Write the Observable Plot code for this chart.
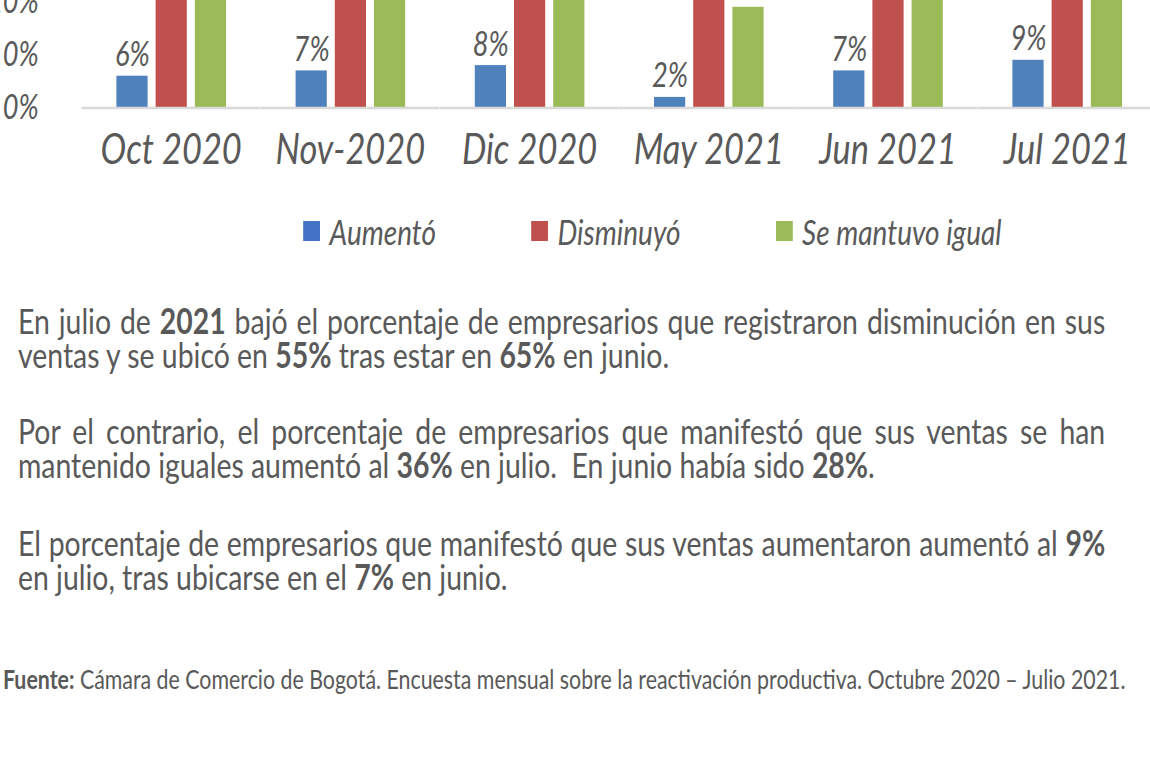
<!DOCTYPE html>
<html><head><meta charset="utf-8">
<script src="https://cdn.jsdelivr.net/npm/d3@7"></script>
<script src="https://cdn.jsdelivr.net/npm/@observablehq/plot@0.6"></script>
<style>
html,body{margin:0;padding:0;background:#fff;overflow:hidden;width:1150px;height:758px;}
#wrap{position:relative;width:1437.5px;height:758px;transform:scaleX(0.8);transform-origin:0 0;font-family:Lato,"Open Sans",sans-serif;color:#595959;}
#chart{position:absolute;left:0;top:-403px;}
#chart svg{max-width:none;}
#chart svg text{font-style:italic;}
#legend{position:absolute;left:379px;top:211px;height:40px;display:flex;align-items:center;gap:119px;font-size:35px;font-style:italic;}
.item{display:flex;align-items:center;}
.sw{width:21px;height:20px;margin-right:12px;}
.para{position:absolute;left:22.5px;width:1359px;font-size:35.5px;line-height:34px;}
.j{text-align:justify;text-align-last:justify;}
.para b{font-weight:700;}
#foot{position:absolute;left:3.75px;top:664px;font-size:26.7px;line-height:30px;white-space:nowrap;}
</style></head>
<body>
<div id="wrap">
  <div id="chart"></div>
  <div id="legend"></div>
  <div class="para" style="top:304px">
    <div class="j">En julio de <b>2021</b> bajó el porcentaje de empresarios que registraron disminución en sus</div>
    <div>ventas y se ubicó en <b>55%</b> tras estar en <b>65%</b> en junio.</div>
  </div>
  <div class="para" style="top:414px">
    <div class="j">Por el contrario, el porcentaje de empresarios que manifestó que sus ventas se han</div>
    <div>mantenido iguales aumentó al <b>36%</b> en julio.&nbsp; En junio había sido <b>28%</b>.</div>
  </div>
  <div class="para" style="top:526px">
    <div class="j">El porcentaje de empresarios que manifestó que sus ventas aumentaron aumentó al <b>9%</b></div>
    <div>en julio, tras ubicarse en el <b>7%</b> en junio.</div>
  </div>
  <div id="foot"><b>Fuente:</b> Cámara de Comercio de Bogotá. Encuesta mensual sobre la reactivación productiva. Octubre 2020 – Julio 2021.</div>
</div>
<script>
const categories = ["Oct 2020", "Nov-2020", "Dic 2020", "May 2021", "Jun 2021", "Jul 2021"];
const series = ["Aumentó", "Disminuyó", "Se mantuvo igual"];
const aumento   = [6, 7, 8, 2, 7, 9];
const disminuyo = [70, 68, 62, 79, 65, 55];
const igual     = [24, 25, 30, 19, 28, 36];
const barColors = ["#4F81BD", "#C0504D", "#9BBB59"];
const legendColors = ["#4472C4", "#C0504D", "#9BBB59"];
const yTicks = [0, 10, 20, 30, 40, 50, 60, 70, 80];

const seriesValues = [aumento, disminuyo, igual];
const rows = [];
categories.forEach((cat, i) => {
  series.forEach((s, k) => rows.push({cat, serie: s, value: seriesValues[k][i]}));
});

const chart = Plot.plot({
  width: 1446,
  height: 570.5,
  marginLeft: 101.5,
  marginRight: 0,
  marginTop: 60,
  marginBottom: 60,
  style: {fontFamily: "Lato, 'Open Sans', sans-serif", color: "#595959", background: "transparent"},
  fx: {domain: categories, paddingInner: 0.288, paddingOuter: 0.144, label: null},
  x: {domain: series, padding: 0.213, axis: null},
  y: {domain: [0, 85]},
  color: {domain: series, range: barColors},
  marks: [
    Plot.barY(rows, {fx: "cat", x: "serie", y: "value", fill: "serie"}),
    Plot.ruleY([0], {stroke: "#d9d9d9", strokeWidth: 2.5, insetLeft: -32.3, insetRight: -32.3}),
    Plot.text(rows, {fx: "cat", x: "serie", y: "value", text: d => d.value + "%", lineAnchor: "bottom", dy: -10, fontSize: 34, fill: "#595959"}),
    Plot.axisY(yTicks, {tickSize: 0, tickPadding: 86, tickFormat: d => d + "%", fontSize: 34, fill: "#595959", label: null}),
    Plot.axisFx({anchor: "bottom", tickSize: 0, tickPadding: 25, fontSize: 43, fill: "#595959", label: null})
  ]
});
document.getElementById("chart").appendChild(chart);

const legend = document.getElementById("legend");
series.forEach((s, k) => {
  const item = document.createElement("div");
  item.className = "item";
  const sw = document.createElement("span");
  sw.className = "sw";
  sw.style.background = legendColors[k];
  const t = document.createElement("span");
  t.textContent = s;
  item.appendChild(sw);
  item.appendChild(t);
  legend.appendChild(item);
});
</script>
</body></html>
